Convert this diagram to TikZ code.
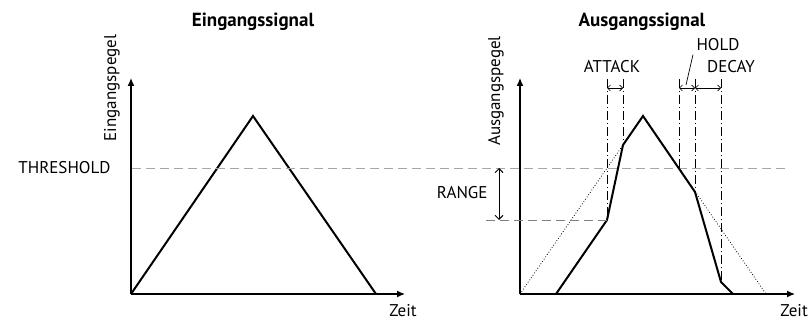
\documentclass[tikz,border=0pt]{standalone}
\usepackage{fontspec}
\setmainfont{PT Sans}
\usetikzlibrary{arrows.meta, positioning, calc}

\begin{document}
\begin{tikzpicture}[x=1pt, y=-1pt, font=\fontsize{17}{19}\selectfont,
    axis/.style={line width=1.3pt, -{Latex[length=8pt,width=7pt]}},
    signal/.style={line width=2pt, line join=miter},
    level/.style={gray!70, line width=0.9pt, dash pattern=on 9pt off 5pt},
    marker/.style={line width=0.8pt, dash pattern=on 9pt off 3pt on 1pt off 3pt},
    span/.style={line width=0.7pt, {Straight Barb[length=3pt]}-{Straight Barb[length=3pt]}},
    heading/.style={font=\fontsize{19}{21}\selectfont\bfseries}]
    \useasboundingbox (0,0) rectangle (809,320);

    % Input plot
    \coordinate (O1) at (131,294);
    \coordinate (X1) at (405,294);
    \coordinate (Y1) at (131,78);
    \draw[axis] (O1) -- (X1);
    \draw[axis] (O1) -- (Y1);
    \node[heading] (t1) at (253,22) {Eingangssignal};
    \node[rotate=90] (yl1) at (112,88) {Eingangspegel};
    \node (z1) at (403,311) {Zeit};

    % Input triangle
    \coordinate (P1) at (253,116);
    \coordinate (E1) at (376,294);
    \draw[signal] (O1) -- (P1) -- (E1);

    % Threshold
    \coordinate (T0) at (132,168);
    \coordinate (T1) at (787,168);
    \draw[level] (T0) -- (T1);
    \node[anchor=east] (thr) at (114,168) {THRESHOLD};

    % Output plot
    \coordinate (O2) at (520,294);
    \coordinate (X2) at (795,294);
    \coordinate (Y2) at (520,78);
    \draw[axis] (O2) -- (X2);
    \draw[axis] (O2) -- (Y2);
    \node[heading] (t2) at (642,22) {Ausgangssignal};
    \node[rotate=90] (yl2) at (496,91) {Ausgangspegel};
    \node[anchor=east, inner xsep=1pt] (z2) at (809,311) {Zeit};

    % Ungated signal (dotted)
    \coordinate (P2) at (643,116);
    \coordinate (E2) at (766,294);
    \draw[dotted, line width=0.8pt] (O2) -- (P2) -- (E2);

    % Gated signal
    \coordinate (S0) at (556,294);
    \coordinate (A0) at (607,220);
    \coordinate (A1) at (623,145);
    \coordinate (H1) at (695,192);
    \coordinate (D1) at (721,282);
    \coordinate (S1) at (733,294);
    \draw[signal] (S0) -- (A0) -- (A1) -- (P2) -- (H1) -- (D1) -- (S1);

    % Range
    \coordinate (R0) at (486,220);
    \draw[level, gray] (R0) -- (A0);
    \coordinate (Rt) at (499,168);
    \coordinate (Rb) at (499,220);
    \draw[line width=0.9pt, {Straight Barb[length=4pt]}-{Straight Barb[length=4pt]}] (Rt) -- (Rb);
    \node[anchor=east] (rng) at (491,193) {RANGE};

    % Time markers
    \coordinate (H0) at (679,168);
    \foreach \p/\n in {A0/a0, A1/a1, H0/h0, H1/h1, D1/d1} {
        \coordinate (\n) at (\p |- 0,79);
        \draw[marker] (\n) -- (\p);
        \coordinate (\n m) at (\p |- 0,88);
    }
    \draw[span] (a0m) -- (a1m);
    \draw[span] (h0m) -- (h1m);
    \draw[span] (h1m) -- (d1m);

    % Labels
    \node (att) at (612,67) {ATTACK};
    \node (hld) at (718,45) {HOLD};
    \node (dec) at (731,67) {DECAY};
    \coordinate (hl) at (686,85);
    \draw[line width=0.7pt] (hl) -- (hld.south west);
\end{tikzpicture}
\end{document}
